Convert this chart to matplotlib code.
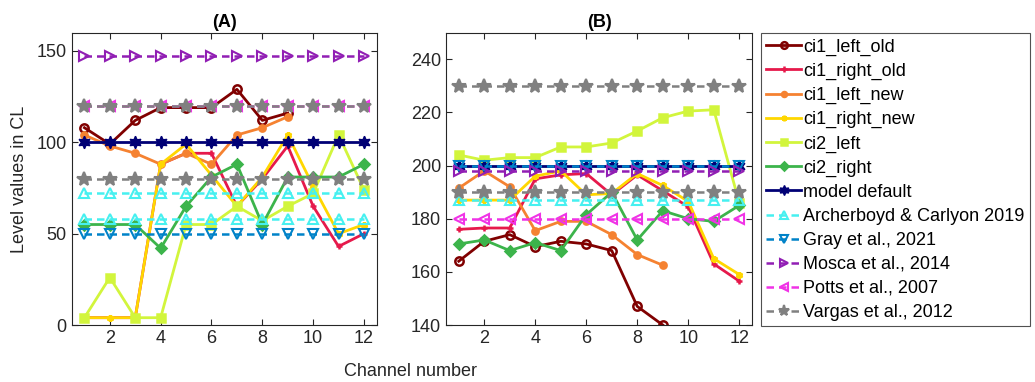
import matplotlib
matplotlib.use("Agg")
import matplotlib.pyplot as plt
import numpy as np

plt.rcParams["font.family"] = ["Liberation Sans", "DejaVu Sans"]
plt.rcParams["font.size"] = 13

channels = np.arange(1, 13)

# panel A values (threshold-like levels)
a_ci1_left_old = [108, 99, 112, 119, 119, 119, 129, 112, 116]
a_ci1_right_old = [4, 4, 4, 88, 94, 94, 65, 80, 98, 65, 43, 50]
a_ci1_left_new = [104, 98, 94, 88, 94, 88, 104, 108, 114]
a_ci1_right_new = [4, 4, 4, 88, 99, 82, 65, 81, 104, 76, 50, 55]
a_ci2_left = [4, 26, 4, 4, 55, 55, 65, 57, 65, 72, 104, 74]
a_ci2_right = [55, 55, 55, 42, 65, 81, 88, 55, 81, 81, 81, 88]
a_model_default = [100]
a_archerboyd = [72, 58]
a_gray = [50]
a_mosca = [147]
a_potts = [120]
a_vargas = [120, 80]

# panel B values (comfort-like levels)
b_ci1_left_old = [164, 171.5, 174, 169.5, 171.5, 170.5, 168, 147, 140]
b_ci1_right_old = [176, 176.5, 176.5, 195, 196.5, 197, 189, 196.5, 190.5, 184.5, 163, 156.5]
b_ci1_left_new = [191.5, 198, 192, 175.5, 179, 179, 174, 166.5, 162.5]
b_ci1_right_new = [187, 187, 187, 196, 198, 189, 189.5, 197, 192.5, 186.5, 165, 159]
b_ci2_left = [204, 202, 203, 203, 207, 207, 208.5, 213, 218, 220.5, 221, 186]
b_ci2_right = [170.5, 172, 168, 171, 168, 181.5, 190, 172, 183, 180, 179, 185]
b_model_default = [200]
b_archerboyd = [187]
b_gray = [200]
b_mosca = [198]
b_potts = [180]
b_vargas = [230, 190]

series_names = ["ci1_left_old", "ci1_right_old", "ci1_left_new",
                "ci1_right_new", "ci2_left", "ci2_right"]
ref_names = ["Archerboyd & Carlyon 2019", "Gray et al., 2021",
             "Mosca et al., 2014", "Potts et al., 2007", "Vargas et al., 2012"]

# style per series: color, marker, size, face
series_style = [
    ("#800000", "o", 6, "none"),
    ("#e6194b", "+", 5, "#e6194b"),
    ("#f58231", "o", 4.5, "#f58231"),
    ("#ffd700", (6, 2, 0), 5, "#ffd700"),
    ("#d2f53c", "s", 6, "#d2f53c"),
    ("#3cb44b", "D", 5, "#3cb44b"),
]
default_style = ("#000075", (6, 1, 0), 9, "#000075")
ref_style = [
    ("#46f0f0", "^", 6.5),
    ("#0082c8", "v", 6.5),
    ("#911eb4", ">", 6.5),
    ("#f032e6", "<", 6.5),
    ("#808080", "*", 10),
]

AX_COLOR = "#262626"


def draw_panel(ax, data, default, refs, ylim, yticks, title):
    handles = []
    for vals, name, (clr, mk, ms, face) in zip(data, series_names, series_style):
        x = channels[:len(vals)]
        h, = ax.plot(x, vals, color=clr, lw=2, marker=mk, ms=ms,
                     mfc=face, mec=clr, mew=1.8, label=name)
        handles.append(h)
    clr, mk, ms, face = default_style
    h, = ax.plot(channels, np.full(12, default[0]), color=clr, lw=2,
                 marker=mk, ms=ms, mfc=face, mec=clr, label="model default")
    handles.append(h)
    for levels, name, (clr, mk, ms) in zip(refs, ref_names, ref_style):
        face = clr if mk == "*" else "none"
        for i, lev in enumerate(levels):
            h, = ax.plot(channels, np.full(12, lev), color=clr, lw=1.8,
                         ls=(0, (3, 2)), marker=mk, ms=ms, mfc=face, mec=clr,
                         mew=1.5, label=name if i == 0 else None)
            if i == 0:
                handles.append(h)
    ax.set_xlim(0.5, 12.5)
    ax.set_ylim(*ylim)
    ax.set_xticks([2, 4, 6, 8, 10, 12])
    ax.set_yticks(yticks)
    ax.tick_params(direction="in", top=True, right=True, length=4,
                   colors=AX_COLOR, labelsize=13)
    for sp in ax.spines.values():
        sp.set_color(AX_COLOR)
        sp.set_linewidth(0.8)
    ax.set_title(title, fontweight="bold", fontsize=13, color="black", pad=4)
    return handles


fig = plt.figure(figsize=(10.35, 3.82), dpi=100)
ax_a = fig.add_axes([71.7 / 1035, 57 / 382, 305 / 1035, 292.3 / 382])
ax_b = fig.add_axes([446 / 1035, 57 / 382, 306 / 1035, 292.3 / 382])

handles = draw_panel(ax_a,
                     [a_ci1_left_old, a_ci1_right_old, a_ci1_left_new,
                      a_ci1_right_new, a_ci2_left, a_ci2_right],
                     a_model_default,
                     [a_archerboyd, a_gray, a_mosca, a_potts, a_vargas],
                     (0, 160), [0, 50, 100, 150], "(A)")
draw_panel(ax_b,
           [b_ci1_left_old, b_ci1_right_old, b_ci1_left_new,
            b_ci1_right_new, b_ci2_left, b_ci2_right],
           b_model_default,
           [b_archerboyd, b_gray, b_mosca, b_potts, b_vargas],
           (140, 250), [140, 160, 180, 200, 220, 240], "(B)")

leg = fig.legend(handles=handles, loc="upper left",
                 bbox_to_anchor=(761 / 1035, 1 - 33 / 382),
                 borderaxespad=0, frameon=True, fancybox=False,
                 handlelength=1.9, handletextpad=0.15, labelspacing=0.39,
                 borderpad=0.3, fontsize=13, markerscale=0.8)
leg.get_frame().set_edgecolor(AX_COLOR)
leg.get_frame().set_linewidth(0.8)

fig.text(20 / 1035, 1 - 179 / 382, "Level values in CL", rotation=90,
         ha="center", va="center", fontsize=13, color=AX_COLOR)
fig.text(411 / 1035, 1 - 371 / 382, "Channel number", ha="center",
         va="center", fontsize=13, color=AX_COLOR)

fig.savefig("out.png", dpi=100)
